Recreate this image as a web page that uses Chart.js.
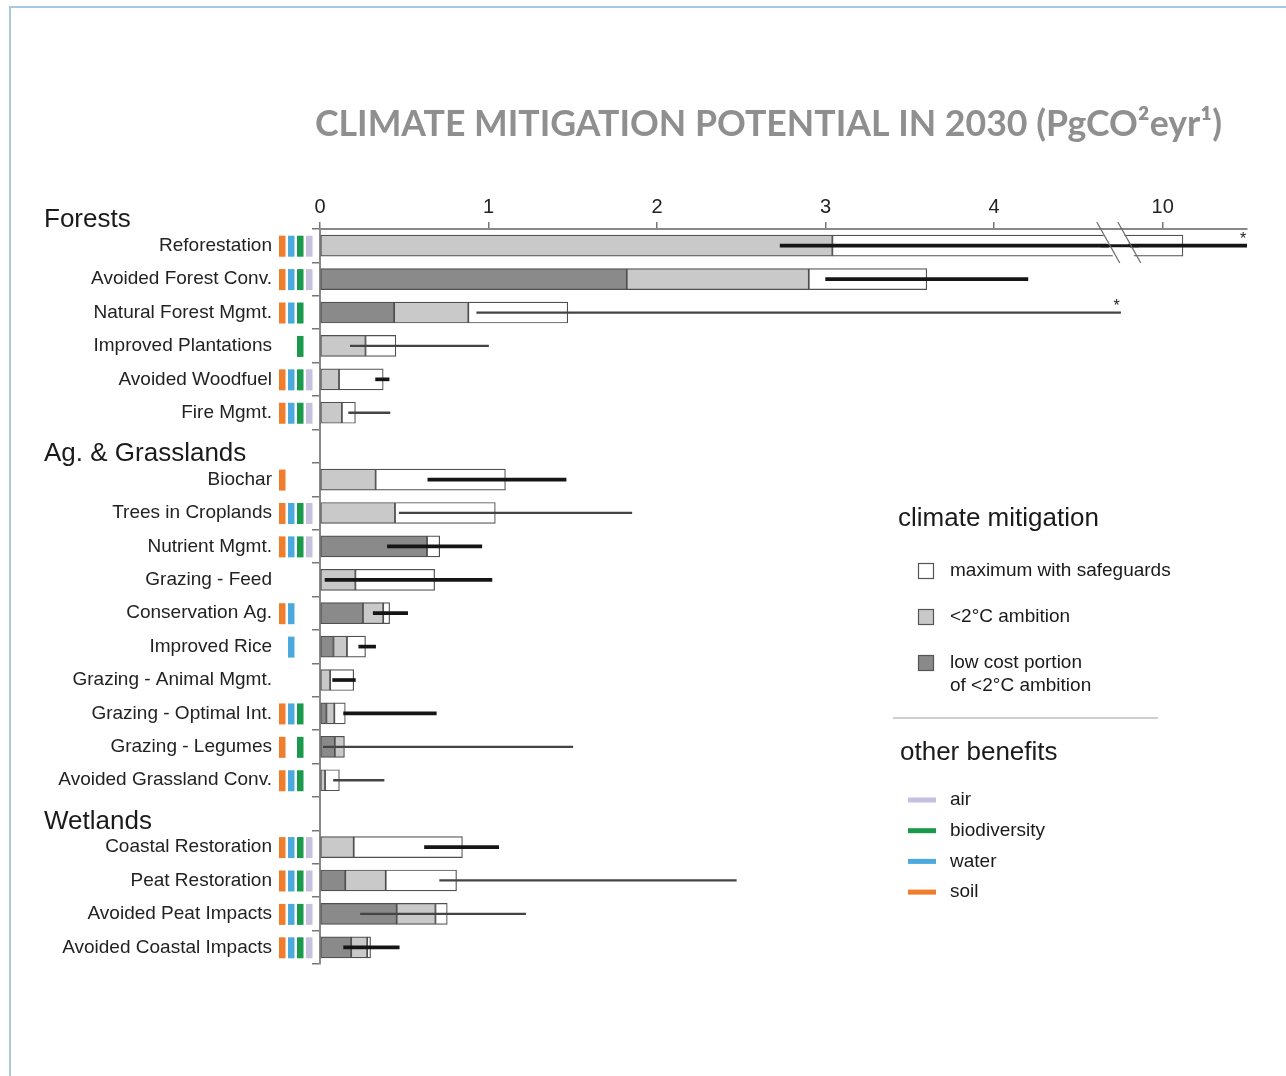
<!DOCTYPE html>
<html>
<head>
<meta charset="utf-8">
<script src="https://cdn.jsdelivr.net/npm/chart.js@4.4.0/dist/chart.umd.min.js"></script>
<style>
  html, body { margin: 0; padding: 0; background: #fff; }
  #wrap { position: relative; width: 1286px; height: 1076px; overflow: hidden; }
  #frame { position: absolute; left: 9px; top: 6px; right: -5px; bottom: -5px;
           border-top: 2px solid #aac6e1; border-left: 2px solid #aac6e1; }
  canvas { position: absolute; left: 0; top: 0; }
</style>
</head>
<body>
<div id="wrap">
  <div id="frame"></div>
  <canvas id="chart" width="1286" height="1076"></canvas>
</div>
<script>
// row labels, '' = gap slot that holds a group heading
var rows = ['Reforestation', 'Avoided Forest Conv.', 'Natural Forest Mgmt.', 'Improved Plantations',
  'Avoided Woodfuel', 'Fire Mgmt.', '',
  'Biochar', 'Trees in Croplands', 'Nutrient Mgmt.', 'Grazing - Feed', 'Conservation Ag.',
  'Improved Rice', 'Grazing - Animal Mgmt.', 'Grazing - Optimal Int.', 'Grazing - Legumes',
  'Avoided Grassland Conv.', '',
  'Coastal Restoration', 'Peat Restoration', 'Avoided Peat Impacts', 'Avoided Coastal Impacts'];

var groups = ['Forests', 'Ag. & Grasslands', 'Wetlands'];
var groupSlots = [-1, 6, 17];

// PgCO2e/yr
var lowCost   = [null, 1.82, 0.44, null, null, null, null,
  null, null, 0.635, null, 0.255, 0.08, null, 0.038, 0.088, null, null,
  null, 0.15, 0.455, 0.185];
var ambition  = [3.04, 2.90, 0.88, 0.27, 0.113, 0.13, null,
  0.33, 0.445, 0.635, 0.21, 0.375, 0.16, 0.06, 0.085, 0.145, 0.03, null,
  0.20, 0.39, 0.685, 0.28];
var maxSafe   = [10.12, 3.60, 1.47, 0.45, 0.375, 0.21, null,
  1.10, 1.04, 0.71, 0.68, 0.413, 0.27, 0.20, 0.15, 0.145, 0.115, null,
  0.845, 0.81, 0.755, 0.30];
var errLow    = [2.73, 3.00, 0.93, 0.18, 0.33, 0.17, null,
  0.64, 0.47, 0.40, 0.03, 0.316, 0.23, 0.075, 0.14, 0.02, 0.08, null,
  0.62, 0.71, 0.24, 0.14];
var errHigh   = [11.5, 4.20, 4.75, 1.00, 0.41, 0.415, null,
  1.46, 1.85, 0.96, 1.02, 0.52, 0.33, 0.21, 0.69, 1.50, 0.38, null,
  1.06, 2.47, 1.22, 0.47];
var errThick  = [1, 1, 0, 0, 1, 0, null,
  1, 0, 1, 1, 1, 1, 1, 1, 0, 0, null,
  1, 0, 0, 1];
var asterisk  = [1, 0, 1, 0, 0, 0, null,
  0, 0, 0, 0, 0, 0, 0, 0, 0, 0, null,
  0, 0, 0, 0];

// other benefits
var soil    = [1, 1, 1, 0, 1, 1, null, 1, 1, 1, 0, 1, 0, 0, 1, 1, 1, null, 1, 1, 1, 1];
var water   = [1, 1, 1, 0, 1, 1, null, 0, 1, 1, 0, 1, 1, 0, 1, 0, 1, null, 1, 1, 1, 1];
var biodiv  = [1, 1, 1, 1, 1, 1, null, 0, 1, 1, 0, 0, 0, 0, 1, 1, 1, null, 1, 1, 1, 1];
var air     = [1, 1, 0, 0, 1, 1, null, 0, 1, 1, 0, 0, 0, 0, 0, 0, 0, null, 1, 1, 1, 1];

var xTicks = [0, 1, 2, 3, 4, 10];

var benefitColors = ['#f07d2c', '#4ba9dd', '#1b9a4b', '#c5c0dd'];
var benefitNames = ['air', 'biodiversity', 'water', 'soil'];

// axis is broken between 4 and 10
function brk(v) {
  if (v == null) return null;
  return v > 7 ? v - 5 : v;
}

function span(a, b) {
  if (a == null || b == null || a === b) return null;
  return [brk(a), brk(b)];
}

var darkData = [], lightData = [], whiteData = [], thickData = [], thinData = [];
rows.forEach(function(r, i) {
  darkData.push(lowCost[i] != null ? span(0, lowCost[i]) : null);
  lightData.push(span(lowCost[i] || 0, ambition[i]));
  whiteData.push(span(ambition[i], maxSafe[i]));
  thickData.push(errThick[i] === 1 ? span(errLow[i], errHigh[i]) : null);
  thinData.push(errThick[i] === 0 ? span(errLow[i], errHigh[i]) : null);
});

var FONT = 'Liberation Sans, Arial, sans-serif';

var extras = {
  id: 'extras',
  afterDatasetsDraw: function(chart) {
    var ctx = chart.ctx, x = chart.scales.x, y = chart.scales.y, area = chart.chartArea;
    // axis break marks
    var bx = x.getPixelForValue(4.68);
    var y0 = y.getPixelForValue(0);
    ctx.save();
    ctx.fillStyle = '#fff';
    ctx.beginPath();
    ctx.moveTo(bx - 6, y0 - 12);
    ctx.lineTo(bx + 15, y0 - 12);
    ctx.lineTo(bx + 26, y0 + 12);
    ctx.lineTo(bx + 5, y0 + 12);
    ctx.closePath();
    ctx.fill();
    ctx.strokeStyle = '#151515';
    ctx.lineWidth = 3;
    ctx.beginPath();
    ctx.moveTo(bx - 8, y0);
    ctx.lineTo(bx + 30, y0);
    ctx.stroke();
    ctx.strokeStyle = '#666';
    ctx.lineWidth = 1.2;
    [0, 21].forEach(function(o) {
      ctx.beginPath();
      ctx.moveTo(bx - 12 + o, area.top - 7);
      ctx.lineTo(bx + 11 + o, area.top + 34);
      ctx.stroke();
    });
    // asterisks
    ctx.fillStyle = '#222';
    ctx.font = '16px ' + FONT;
    ctx.textAlign = 'center';
    ctx.textBaseline = 'middle';
    rows.forEach(function(r, i) {
      if (asterisk[i] !== 1) return;
      var px = Math.min(x.getPixelForValue(brk(errHigh[i])), area.right);
      ctx.fillText('*', px - 4, y.getPixelForValue(i) - 6);
    });
    ctx.restore();
  },
  afterDraw: function(chart) {
    var ctx = chart.ctx, y = chart.scales.y;
    var slot = y.getPixelForValue(1) - y.getPixelForValue(0);
    ctx.save();

    // title
    ctx.fillStyle = '#8f8f8f';
    ctx.font = 'bold 36px Lato, sans-serif';
    ctx.textBaseline = 'middle';
    ctx.textAlign = 'left';
    var title = 'CLIMATE MITIGATION POTENTIAL IN 2030 (PgCO\u00B2eyr\u00B9)';
    var w = ctx.measureText(title).width;
    ctx.save();
    ctx.translate(315, 124);
    ctx.scale(907 / w, 1);
    ctx.fillText(title, 0, 0);
    ctx.restore();

    // group headings
    ctx.fillStyle = '#1a1a1a';
    ctx.font = '26px ' + FONT;
    groups.forEach(function(g, k) {
      var s = groupSlots[k];
      var cy = s < 0 ? y.getPixelForValue(0) - slot : y.getPixelForValue(s);
      ctx.fillText(g, 44, cy + 8);
    });

    // benefit markers
    var flags = [soil, water, biodiv, air];
    var mx = [279, 288, 297, 306];
    rows.forEach(function(r, i) {
      var cy = y.getPixelForValue(i);
      flags.forEach(function(f, k) {
        if (f[i] === 1) {
          ctx.fillStyle = benefitColors[k];
          ctx.fillRect(mx[k], cy - 10, 6.5, 21);
        }
      });
    });

    // legend: climate mitigation
    ctx.fillStyle = '#1a1a1a';
    ctx.font = '26px ' + FONT;
    ctx.fillText('climate mitigation', 898, 519);
    var boxes = [['#ffffff', ['maximum with safeguards'], 571],
                 ['#c9c9c9', ['<2\u00B0C ambition'], 617],
                 ['#8a8a8a', ['low cost portion', 'of <2\u00B0C ambition'], 663]];
    ctx.font = '19px ' + FONT;
    boxes.forEach(function(b) {
      ctx.fillStyle = b[0];
      ctx.fillRect(918, b[2] - 8, 16, 16);
      ctx.strokeStyle = '#555';
      ctx.lineWidth = 1.2;
      ctx.strokeRect(918.5, b[2] - 7.5, 15, 15);
      ctx.fillStyle = '#1a1a1a';
      b[1].forEach(function(t, j) {
        ctx.fillText(t, 950, b[2] + j * 23);
      });
    });
    ctx.strokeStyle = '#cfcfcf';
    ctx.lineWidth = 2;
    ctx.beginPath();
    ctx.moveTo(893, 718);
    ctx.lineTo(1158, 718);
    ctx.stroke();

    // legend: other benefits
    ctx.fillStyle = '#1a1a1a';
    ctx.font = '26px ' + FONT;
    ctx.fillText('other benefits', 900, 753);
    ctx.font = '19px ' + FONT;
    var lc = [benefitColors[3], benefitColors[2], benefitColors[1], benefitColors[0]];
    benefitNames.forEach(function(n, k) {
      var ly = 800 + k * 30.7;
      ctx.fillStyle = lc[k];
      ctx.fillRect(908, ly - 2.5, 28, 5);
      ctx.fillStyle = '#1a1a1a';
      ctx.fillText(n, 950, ly);
    });
    ctx.restore();
  }
};

var barStyle = {
  borderColor: '#505050',
  borderWidth: 1.2,
  borderSkipped: false,
  barThickness: 21,
  grouped: false
};

new Chart(document.getElementById('chart'), {
  type: 'bar',
  data: {
    labels: rows,
    datasets: [
      { label: 'thick', data: thickData, backgroundColor: '#151515', barThickness: 3, grouped: false, order: 0 },
      { label: 'thin', data: thinData, backgroundColor: '#444', barThickness: 1.6, grouped: false, order: 0 },
      Object.assign({ label: 'maximum with safeguards', data: whiteData, backgroundColor: '#ffffff', order: 1 }, barStyle),
      Object.assign({ label: '<2°C ambition', data: lightData, backgroundColor: '#c9c9c9', order: 1 }, barStyle),
      Object.assign({ label: 'low cost portion', data: darkData, backgroundColor: '#8a8a8a', order: 1 }, barStyle)
    ]
  },
  options: {
    indexAxis: 'y',
    responsive: false,
    animation: false,
    layout: { padding: { top: 180, left: 0, right: 39, bottom: 112 } },
    plugins: { legend: { display: false }, tooltip: { enabled: false } },
    scales: {
      x: {
        type: 'linear',
        position: 'top',
        min: 0,
        max: 5.5,
        afterBuildTicks: function(s) {
          s.ticks = xTicks.map(function(v) { return { value: brk(v) }; });
        },
        afterFit: function(s) { s.height = 49; },
        ticks: {
          callback: function(v) { return v === 5 ? '10' : String(v); },
          font: { family: FONT, size: 20 },
          color: '#222',
          padding: 3
        },
        grid: { drawOnChartArea: false, tickLength: 7, color: '#777', lineWidth: 1.5 },
        border: { color: '#888', width: 2 }
      },
      y: {
        type: 'category',
        offset: true,
        afterFit: function(s) { s.width = 320; },
        ticks: {
          autoSkip: false,
          font: { family: FONT, size: 19 },
          color: '#222',
          padding: 40
        },
        grid: { offset: true, drawOnChartArea: false, tickLength: 8, color: '#777', lineWidth: 1.5 },
        border: { color: '#888', width: 2 }
      }
    }
  },
  plugins: [extras]
});
</script>
</body>
</html>
